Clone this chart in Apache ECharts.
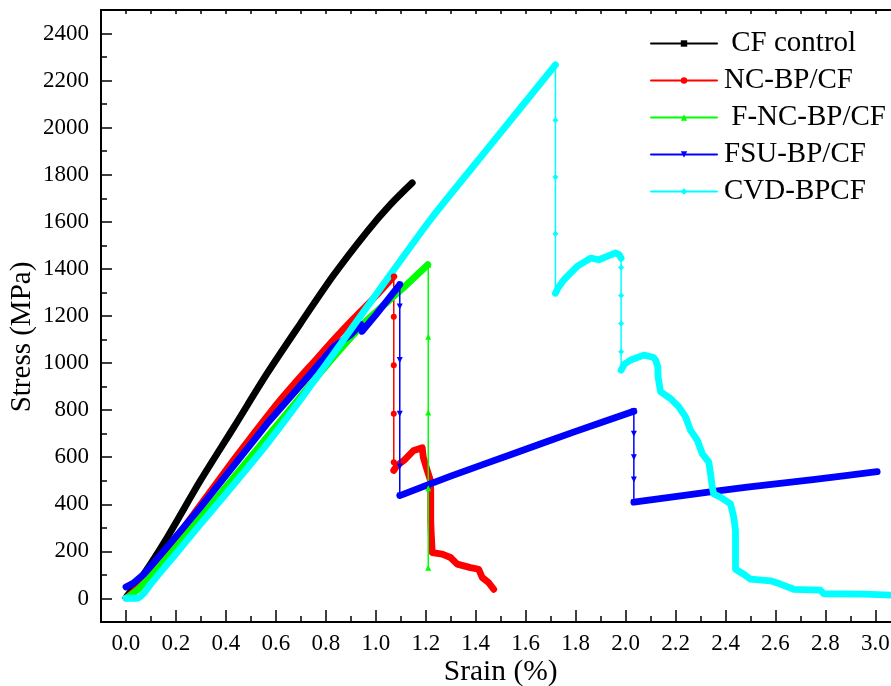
<!DOCTYPE html>
<html><head><meta charset="utf-8">
<script src="https://cdn.jsdelivr.net/npm/echarts@6/dist/echarts.min.js"></script>
<style>html,body{margin:0;padding:0;background:#fff}#c{width:891px;height:686px}</style>
</head><body><div id="c"></div>
<script>
// ---- series names / colors ----
const seriesNames = [' CF control', 'NC-BP/CF', ' F-NC-BP/CF', 'FSU-BP/CF', 'CVD-BPCF'];
const seriesColors = ['#000000', '#ff0000', '#00ff00', '#0000ff', '#00ffff'];
const seriesSymbols = ['rect', 'circle', 'triangle', 'path://M0,0L10,0L5,9Z', 'diamond'];

// ---- tick settings ----
const xTickMin = 0, xTickMax = 3.0, xTickStep = 0.2;
const yTickMin = 0, yTickMax = 2400, yTickStep = 200;

// ---- CF control ----
const cfStrain = [0.0, 0.005, 0.071, 0.165, 0.298, 0.432, 0.565, 0.699, 0.832, 0.966, 1.059, 1.146];
const cfStress = [3, 11, 103, 259, 501, 728, 956, 1169, 1375, 1560, 1674, 1766];

// ---- NC-BP/CF ----
const ncStrain = [0.005, 0.05, 0.1, 0.2, 0.3, 0.432, 0.592, 0.672, 0.752, 0.832, 0.912, 1.0, 1.072];
const ncStress = [5, 50, 115, 255, 400, 590, 810, 910, 1005, 1100, 1190, 1285, 1368];
const ncDropStrain = [1.072, 1.072, 1.072, 1.072, 1.072, 1.072];
const ncDropStress = [1368, 1197, 991, 785, 579, 544];
const ncPostStrain = [1.072, 1.085, 1.112, 1.152, 1.186, 1.19, 1.2, 1.206, 1.219, 1.22, 1.22, 1.22, 1.222, 1.226, 1.266, 1.299, 1.326, 1.379, 1.412, 1.426, 1.452, 1.472];
const ncPostStress = [544, 565, 586, 629, 640, 600, 565, 544, 501, 451, 387, 330, 274, 195, 188, 174, 146, 131, 124, 89, 67, 39];

// ---- F-NC-BP/CF ----
const fncStrain = [0.005, 0.05, 0.1, 0.2, 0.298, 0.432, 0.565, 0.699, 0.832, 0.966, 1.1, 1.208];
const fncStress = [3, 40, 95, 218, 344, 515, 686, 857, 1027, 1183, 1310, 1418];
const fncDropStrain = [1.21, 1.21, 1.21, 1.21, 1.21];
const fncDropStress = [1418, 1112, 790, 468, 131];

// ---- FSU-BP/CF ----
const fsuStrain = [0.0, 0.03, 0.071, 0.15, 0.298, 0.432, 0.565, 0.699, 0.832, 0.898, 0.94, 0.945, 1.0, 1.096];
const fsuStress = [49, 65, 103, 200, 387, 565, 743, 906, 1069, 1119, 1165, 1135, 1205, 1333];
const fsuDrop1Strain = [1.096, 1.096, 1.096, 1.096, 1.096, 1.096];
const fsuDrop1Stress = [1333, 1240, 1013, 785, 561, 437];
const fsuMidStrain = [1.096, 1.3, 1.55, 1.8, 2.033];
const fsuMidStress = [437, 520, 615, 710, 795];
const fsuDrop2Strain = [2.033, 2.033, 2.033, 2.033, 2.033];
const fsuDrop2Stress = [795, 700, 600, 505, 409];
const fsuPostStrain = [2.033, 2.22, 2.487, 2.75, 3.007];
const fsuPostStress = [409, 436, 473, 505, 539];

// ---- CVD-BPCF ----
const cvdStrain = [0.0, 0.045, 0.07, 0.098, 0.2, 0.298, 0.432, 0.565, 0.699, 0.832, 0.966, 1.219, 1.45, 1.719];
const cvdStress = [1, 1, 20, 60, 190, 316, 485, 657, 845, 1041, 1240, 1610, 1914, 2267];
const cvdDrop1Strain = [1.719, 1.719, 1.719, 1.719, 1.719];
const cvdDrop1Stress = [2267, 2032, 1790, 1549, 1297];
const cvdMidStrain = [1.719, 1.73, 1.753, 1.806, 1.86, 1.893, 1.926, 1.96, 1.975, 1.982];
const cvdMidStress = [1297, 1320, 1354, 1411, 1446, 1439, 1453, 1468, 1460, 1446];
const cvdDrop2Strain = [1.982, 1.982, 1.982, 1.982, 1.982, 1.982];
const cvdDrop2Stress = [1446, 1406, 1287, 1168, 1048, 970];
const cvdPostStrain = [1.982, 1.995, 2.02, 2.073, 2.11, 2.12, 2.129, 2.13, 2.14, 2.18, 2.213, 2.24, 2.26, 2.287, 2.307, 2.333, 2.34, 2.347, 2.353, 2.38, 2.42, 2.433, 2.44, 2.44, 2.44, 2.44, 2.473, 2.5, 2.58, 2.62, 2.673, 2.78, 2.793, 2.953, 3.08];
const cvdPostStress = [970, 995, 1013, 1034, 1025, 1013, 984, 941, 878, 849, 814, 771, 714, 672, 615, 579, 530, 472, 444, 430, 402, 345, 288, 230, 175, 124, 103, 82, 75, 61, 39, 35, 20, 18, 14];

// ---- helpers ----
const FONT = '"Liberation Serif", "Times New Roman", serif';
const zip = (xs, ys) => xs.map((x, i) => [x, ys[i]]);

function thick(i, xs, ys, smooth) {
  return {
    type: 'line', name: seriesNames[i], data: zip(xs, ys),
    xAxisIndex: 0, yAxisIndex: 0, smooth: smooth || false,
    symbol: seriesSymbols[i], showSymbol: false, symbolSize: 6,
    lineStyle: { color: seriesColors[i], width: 6.8, cap: 'round', join: 'round' },
    itemStyle: { color: seriesColors[i] },
    emphasis: { disabled: true }, silent: true
  };
}
function thin(i, xs, ys) {
  return {
    type: 'line', name: seriesNames[i], data: zip(xs, ys),
    xAxisIndex: 0, yAxisIndex: 0,
    symbol: seriesSymbols[i], showSymbol: true, showAllSymbol: true, symbolSize: 6,
    lineStyle: { color: seriesColors[i], width: 1.5 },
    itemStyle: { color: seriesColors[i] },
    emphasis: { disabled: true }, silent: true
  };
}

// ---- layout (pixels) ----
const L = 101, T = 10, W = 799.4, H = 612;
const xMin = -0.1, xMax = 3.1, yMin = -100, yMax = 2500;
const pxX = W / (xMax - xMin), pxY = H / (yMax - yMin);
const g2Left = L + (xTickMin - xMin) * pxX;
const g2Top = T + (yMax - yTickMax) * pxY;
const g2W = (xTickMax - xTickMin) * pxX;
const g2H = (yTickMax - yTickMin) * pxY;
const xOff = (T + H) - (g2Top + g2H);
const yOff = g2Left - L;

const axisLineStyle = { color: '#000', width: 2 };

const chart = echarts.init(document.getElementById('c'), null, { renderer: 'canvas' });
chart.setOption({
  animation: false,
  backgroundColor: '#fff',
  grid: [
    { left: L, top: T, width: W, height: H, outerBoundsMode: 'none', containLabel: false },
    { left: g2Left, top: g2Top, width: g2W, height: g2H, outerBoundsMode: 'none', containLabel: false }
  ],
  xAxis: [
    { gridIndex: 0, type: 'value', min: xMin, max: xMax, interval: 0.1, position: 'bottom',
      axisLine: { show: true, onZero: false, lineStyle: axisLineStyle },
      axisTick: { show: true, inside: true, length: 6, lineStyle: { color: '#000', width: 1.5 } },
      axisLabel: { show: false }, splitLine: { show: false },
      name: 'Srain (%)', nameLocation: 'middle', nameGap: 35,
      nameTextStyle: { fontFamily: FONT, fontSize: 29.5, color: '#000' } },
    { gridIndex: 0, type: 'value', min: xMin, max: xMax, interval: 0.1, position: 'top',
      axisLine: { show: true, onZero: false, lineStyle: axisLineStyle },
      axisTick: { show: true, inside: true, length: 4, lineStyle: { color: '#000', width: 1.5 } },
      axisLabel: { show: false }, splitLine: { show: false } },
    { gridIndex: 1, type: 'value', min: xTickMin, max: xTickMax, interval: xTickStep, position: 'bottom',
      offset: xOff,
      axisLine: { show: false, onZero: false },
      axisTick: { show: true, inside: true, length: 12, lineStyle: { color: '#000', width: 1.5 } },
      axisLabel: { show: true, margin: 10, fontFamily: FONT, fontSize: 23, color: '#000',
        formatter: v => v.toFixed(1) },
      splitLine: { show: false } }
  ],
  yAxis: [
    { gridIndex: 0, type: 'value', min: yMin, max: yMax, interval: 100, position: 'left',
      axisLine: { show: true, onZero: false, lineStyle: axisLineStyle },
      axisTick: { show: true, inside: true, length: 6, lineStyle: { color: '#000', width: 1.5 } },
      axisLabel: { show: false }, splitLine: { show: false } },
    { gridIndex: 1, type: 'value', min: yTickMin, max: yTickMax, interval: yTickStep, position: 'left',
      offset: yOff,
      axisLine: { show: false, onZero: false },
      axisTick: { show: true, inside: true, length: 11, lineStyle: { color: '#000', width: 1.5 } },
      axisLabel: { show: true, margin: 12, fontFamily: FONT, fontSize: 23, color: '#000',
        formatter: v => String(Math.round(v)) },
      splitLine: { show: false } }
  ],
  legend: {
    orient: 'vertical', left: 650, top: 29, padding: 0,
    itemWidth: 66, itemHeight: 8, itemGap: 8,
    data: seriesNames,
    lineStyle: { width: 2 },
    textStyle: { fontFamily: FONT, fontSize: 29, color: '#000', padding: [0, 0, 0, 2] },
    selectedMode: false
  },
  graphic: [{
    type: 'text', x: 22, y: 337, rotation: Math.PI / 2,
    style: { text: 'Stress (MPa)', font: '29px ' + FONT, fill: '#000', align: 'center', verticalAlign: 'middle' }
  }],
  series: [
    thick(0, cfStrain, cfStress, 0.3),
    thick(1, ncStrain, ncStress, 0.2),
    thin(1, ncDropStrain, ncDropStress),
    thick(1, ncPostStrain, ncPostStress),
    thick(2, fncStrain, fncStress, 0.2),
    thin(2, fncDropStrain, fncDropStress),
    thick(3, fsuStrain, fsuStress),
    thin(3, fsuDrop1Strain, fsuDrop1Stress),
    thick(3, fsuMidStrain, fsuMidStress, 0.2),
    thin(3, fsuDrop2Strain, fsuDrop2Stress),
    thick(3, fsuPostStrain, fsuPostStress, 0.2),
    thick(4, cvdStrain, cvdStress, 0.2),
    thin(4, cvdDrop1Strain, cvdDrop1Stress),
    thick(4, cvdMidStrain, cvdMidStress),
    thin(4, cvdDrop2Strain, cvdDrop2Stress),
    thick(4, cvdPostStrain, cvdPostStress)
  ]
});
</script>
</body></html>
